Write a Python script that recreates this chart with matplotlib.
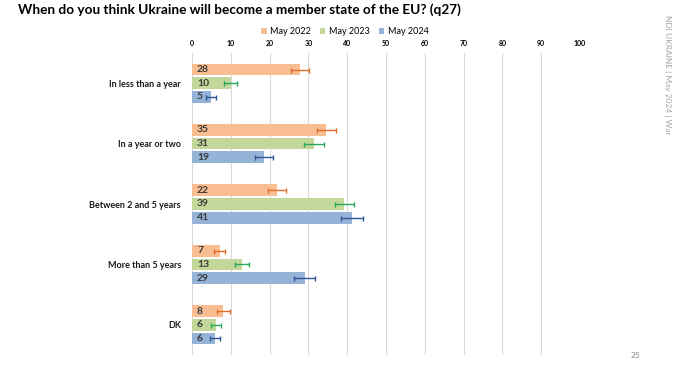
import matplotlib
matplotlib.use('Agg')

import numpy as np
import matplotlib.pyplot as plt

plt.rcParams['font.family'] = ['Lato', 'DejaVu Sans']

categories = ['In less than a year', 'In a year or two', 'Between 2 and 5 years',
              'More than 5 years', 'DK']
series = ['May 2022', 'May 2023', 'May 2024']
may2022 = [27.8, 34.6, 21.9, 7.1, 8.1]
may2023 = [10.0, 31.4, 39.3, 12.9, 6.2]
may2024 = [4.9, 18.6, 41.2, 29.0, 5.9]
err2022 = [2.4, 2.5, 2.2, 1.35, 1.6]
err2023 = [1.7, 2.5, 2.5, 1.8, 1.35]
err2024 = [1.25, 2.25, 2.9, 2.75, 1.35]
labels2022 = ['28', '35', '22', '7', '8']
labels2023 = ['10', '31', '39', '13', '6']
labels2024 = ['5', '19', '41', '29', '6']
xticks = [0, 10, 20, 30, 40, 50, 60, 70, 80, 90, 100]

bar_colors = ['#F8BE92', '#C4D79B', '#95B3D7']
err_colors = ['#E46C2A', '#27A75A', '#2F5597']

W, H = 690, 371
fig = plt.figure(figsize=(W / 100, H / 100), dpi=100)
ax = fig.add_axes([192 / W, 1 - 355 / H, 388 / W, (355 - 53) / H])

y = np.arange(len(categories))
pitch = 0.226
vals = [may2022, may2023, may2024]
errs = [err2022, err2023, err2024]
labs = [labels2022, labels2023, labels2024]
for i in range(3):
    pos = y + (i - 1) * pitch
    ax.barh(pos, vals[i], height=0.195, color=bar_colors[i], label=series[i], zorder=2)
    ax.errorbar(vals[i], pos, xerr=errs[i], fmt='none', ecolor=err_colors[i],
                elinewidth=1.0, capsize=1.8, capthick=1.0, zorder=3)
    for p, t in zip(pos, labs[i]):
        ax.text(1.3, p, t, ha='left', va='center', fontsize=7.5, fontweight='bold',
                color='#3A3A3A', zorder=4)

ax.set_xlim(0, 100)
ax.set_ylim(4.5, -0.5)
ax.set_xticks(xticks)
ax.xaxis.tick_top()
ax.tick_params(axis='x', length=0, labelsize=5, pad=4, labelcolor='#000000')
for lbl in ax.get_xticklabels():
    lbl.set_fontweight('bold')
ax.set_yticks(y)
ax.set_yticklabels(categories, fontsize=6.5, fontweight='bold', color='#1A1A1A')
ax.tick_params(axis='y', length=0, pad=8)
ax.grid(axis='x', color='#D9D9D9', linewidth=0.8, zorder=0)
for s in ax.spines.values():
    s.set_visible(False)

fig.legend(loc='center', bbox_to_anchor=(345 / W, 1 - 32 / H), ncol=3, frameon=False,
           fontsize=6.5, handlelength=0.6, handleheight=0.6, columnspacing=1.0,
           handletextpad=0.4)

fig.text(18 / W, 1 - 10 / H, 'When do you think Ukraine will become a member state of the EU? (q27)',
         ha='left', va='center', fontsize=9.8, fontweight='bold', color='#000000')
fig.text(668 / W, 1 - 75 / H, 'NDI UKRAINE | May 2024 | War', rotation=-90,
         ha='center', va='center', fontsize=6, color='#A6A6A6')
fig.text(636 / W, 1 - 356 / H, '25', ha='center', va='center', fontsize=6, color='#8C8C8C')

plt.savefig('out.png', dpi=100)
plt.close(fig)
